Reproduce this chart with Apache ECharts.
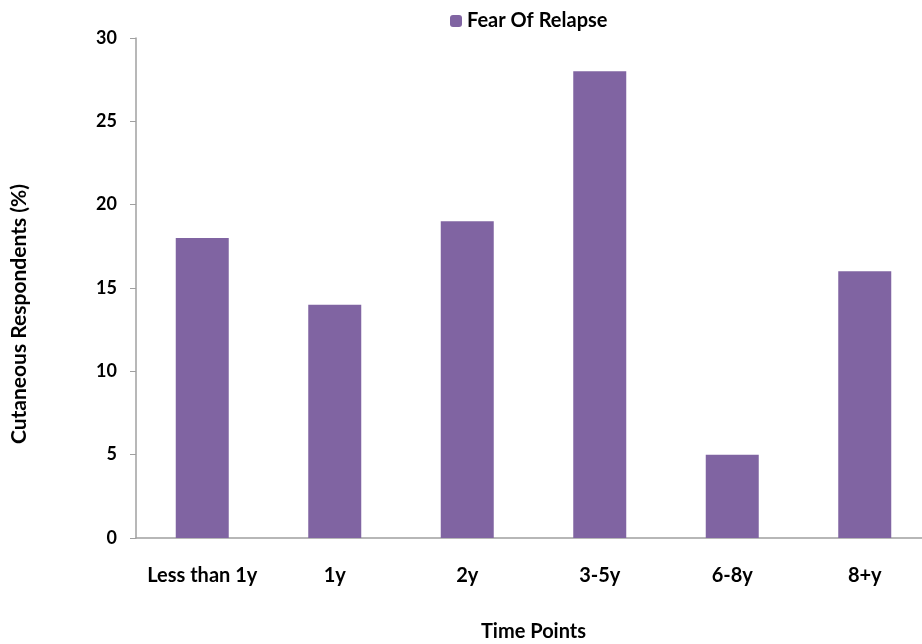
<!DOCTYPE html>
<html>
<head>
<meta charset="utf-8">
<script src="https://cdn.jsdelivr.net/npm/echarts@6/dist/echarts.min.js"></script>
<style>
  html, body { margin: 0; padding: 0; background: #fff; }
  #chart { width: 922px; height: 644px; }
</style>
</head>
<body>
<div id="chart"></div>
<script>
// Time points and share of respondents reporting fear of relapse
const categories = ['Less than 1y', '1y', '2y', '3-5y', '6-8y', '8+y'];
const fearOfRelapse = [18, 14, 19, 28, 5, 16];
const seriesName = 'Fear Of Relapse';
const yTicks = { min: 0, max: 30, interval: 5 };

const font = 'Lato, "Open Sans", sans-serif';
const chart = echarts.init(document.getElementById('chart'));

chart.setOption({
  animation: false,
  textStyle: { fontFamily: font },
  legend: {
    data: [seriesName],
    top: 6,
    left: 445,
    itemWidth: 12,
    itemHeight: 12,
    itemGap: 6,
    textStyle: { fontFamily: font, fontWeight: 'bold', fontSize: 20, color: '#000' }
  },
  grid: { left: 136, top: 38, width: 795, height: 500, outerBoundsMode: 'none', containLabel: false },
  xAxis: {
    type: 'category',
    data: categories,
    name: 'Time Points',
    nameLocation: 'middle',
    nameGap: 84,
    nameTextStyle: { fontFamily: font, fontWeight: 'bold', fontSize: 20, color: '#000' },
    axisLine: { lineStyle: { color: '#a0a0a0', width: 1.5 } },
    axisTick: { show: false },
    axisLabel: { interval: 0, margin: 28, fontFamily: font, fontWeight: 'bold', fontSize: 20, color: '#000' }
  },
  yAxis: {
    type: 'value',
    min: yTicks.min,
    max: yTicks.max,
    interval: yTicks.interval,
    name: 'Cutaneous Respondents (%)',
    nameLocation: 'middle',
    nameGap: 106,
    nameTextStyle: { fontFamily: font, fontWeight: 'bold', fontSize: 21, color: '#000', padding: [0, 52, 0, 0] },
    axisLine: { show: true, lineStyle: { color: '#a0a0a0', width: 1.5 } },
    axisTick: { show: true, length: 6, lineStyle: { color: '#a0a0a0' } },
    splitLine: { show: false },
    axisLabel: { margin: 19, fontFamily: font, fontWeight: 'bold', fontSize: 18, color: '#000' }
  },
  series: [{
    name: seriesName,
    type: 'bar',
    data: fearOfRelapse,
    barWidth: '40%',
    itemStyle: { color: '#8064a2' }
  }]
});
</script>
</body>
</html>
